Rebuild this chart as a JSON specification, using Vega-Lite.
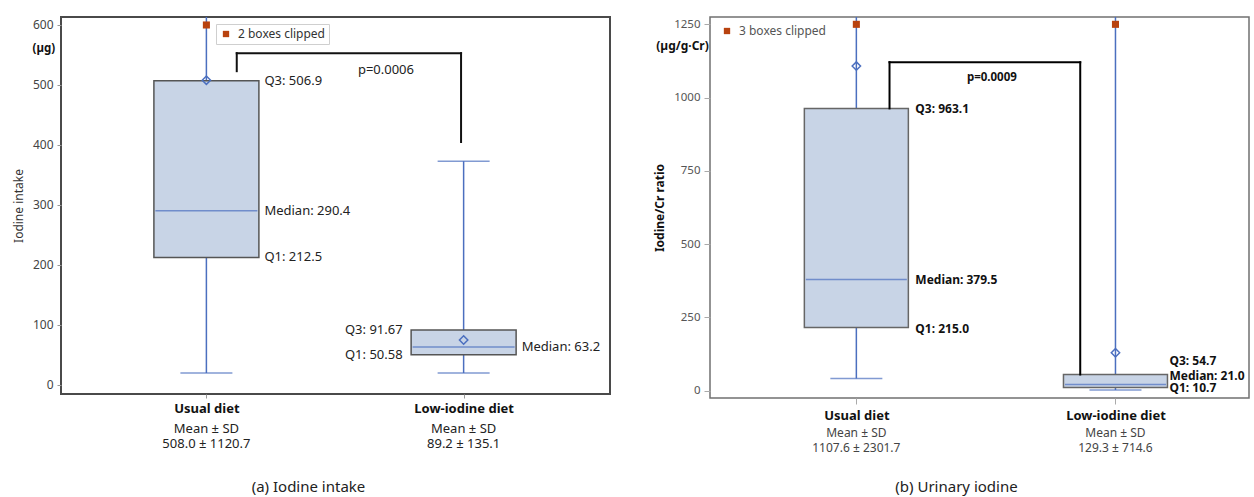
{
  "$schema": "https://vega.github.io/schema/vega-lite/v6.json",
  "padding": {"left": 11, "top": 15, "right": 0, "bottom": 0},
  "background": "white",
  "config": {
    "font": "Noto Sans",
    "axis": {"grid": false, "domain": false, "labelFont": "Noto Sans", "titleFont": "Noto Sans"},
    "legend": {"labelFont": "Noto Sans"},
    "title": {"font": "Noto Sans"}
  },
  "spacing": 41,
  "resolve": {"scale": {"color": "independent"}, "legend": {"color": "independent"}},
  "hconcat": [
    {
      "width": 549,
      "height": 377,
      "view": {"stroke": "#4a4a4a", "strokeWidth": 2},
      "title": {"text": "(a)  Iodine intake", "orient": "bottom", "anchor": "middle", "frame": "group", "dx": -27, "offset": 29, "fontSize": 15, "fontWeight": "normal", "color": "#222"},
      "layer": [
        {
          "data": {"name": "left_main", "values": [
            {"diet": "Usual diet", "idx": 1, "low": 20, "q1": 212.5, "median": 290.4, "q3": 506.9, "high": 613.3, "mean_marker": 508.0, "summary": "508.0 ± 1120.7"},
            {"diet": "Low-iodine diet", "idx": 2, "low": 20, "q1": 50.58, "median": 63.2, "q3": 91.67, "high": 373, "high_cap": 373, "mean_marker": 75, "summary": "89.2 ± 135.1"}
          ]},
          "layer": [
            {
              "mark": {"type": "rule", "color": "#4b6fbf", "strokeWidth": 1.5},
              "encoding": {
                "x": {"field": "idx", "type": "quantitative", "scale": {"domain": [0.4542, 2.5496], "nice": false, "zero": false},
                  "axis": {"values": [1, 2], "labelExpr": "datum.value == 1 ? 'Usual diet' : 'Low-iodine diet'", "title": null, "labelFontWeight": "bold", "labelFontSize": 13, "labelColor": "#111", "tickSize": 4, "tickColor": "#999", "labelPadding": 4}},
                "y": {"field": "low", "type": "quantitative", "scale": {"domain": [-15, 613.3], "nice": false, "zero": false},
                  "axis": {"values": [0, 100, 200, 300, 400, 500, 600], "format": "d", "title": "Iodine intake", "titleFontSize": 12, "titleFontWeight": "normal", "titleColor": "#333", "titlePadding": 7, "labelFontSize": 12, "labelColor": "#444", "tickSize": 4, "tickColor": "#999", "labelPadding": 4}},
                "y2": {"field": "high"}
              }
            },
            {
              "mark": {"type": "bar", "size": 105, "fill": "#c8d4e6", "stroke": "#555", "strokeWidth": 1.5},
              "encoding": {
                "x": {"field": "idx", "type": "quantitative"},
                "y": {"field": "q1", "type": "quantitative"},
                "y2": {"field": "q3"}
              }
            },
            {
              "mark": {"type": "tick", "orient": "horizontal", "size": 102, "thickness": 1.5, "color": "#4b6fbf"},
              "encoding": {
                "x": {"field": "idx", "type": "quantitative"},
                "y": {"field": "median", "type": "quantitative"}
              }
            },
            {
              "mark": {"type": "tick", "orient": "horizontal", "size": 52, "thickness": 1.5, "color": "#4b6fbf"},
              "encoding": {
                "x": {"field": "idx", "type": "quantitative"},
                "y": {"field": "low", "type": "quantitative"}
              }
            },
            {
              "transform": [{"filter": "isValid(datum.high_cap)"}],
              "mark": {"type": "tick", "orient": "horizontal", "size": 52, "thickness": 1.5, "color": "#4b6fbf"},
              "encoding": {
                "x": {"field": "idx", "type": "quantitative"},
                "y": {"field": "high_cap", "type": "quantitative"}
              }
            },
            {
              "mark": {"type": "point", "shape": "diamond", "filled": false, "size": 70, "stroke": "#4b6fbf", "strokeWidth": 1.5, "opacity": 1},
              "encoding": {
                "x": {"field": "idx", "type": "quantitative"},
                "y": {"field": "mean_marker", "type": "quantitative"}
              }
            },
            {
              "mark": {"type": "text", "baseline": "middle", "fontSize": 13, "color": "#222", "dy": 34.5},
              "encoding": {
                "x": {"field": "idx", "type": "quantitative"},
                "y": {"datum": -15, "type": "quantitative"},
                "text": {"value": "Mean ± SD"}
              }
            },
            {
              "mark": {"type": "text", "baseline": "middle", "fontSize": 13, "color": "#222", "dy": 50},
              "encoding": {
                "x": {"field": "idx", "type": "quantitative"},
                "y": {"datum": -15, "type": "quantitative"},
                "text": {"field": "summary"}
              }
            }
          ]
        },
        {
          "data": {"values": [{"idx": 1, "value": 600, "clip": "2 boxes clipped"}]},
          "mark": {"type": "point", "shape": "square", "filled": true, "size": 50, "opacity": 1},
          "encoding": {
            "x": {"field": "idx", "type": "quantitative"},
            "y": {"field": "value", "type": "quantitative"},
            "color": {"field": "clip", "type": "nominal", "scale": {"range": ["#b8420f"]},
              "legend": {"orient": "none", "legendX": 155, "legendY": 7, "title": null, "symbolType": "square", "symbolSize": 40, "labelFontSize": 12, "labelColor": "#333", "labelOffset": 6, "strokeColor": "#cfcfcf", "fillColor": "white", "padding": 4}}
          }
        },
        {
          "data": {"values": [
            {"x": 1.118, "x2": 1.118, "y": 523, "y2": 553},
            {"x": 1.118, "x2": 1.99, "y": 553, "y2": 553},
            {"x": 1.99, "x2": 1.99, "y": 553, "y2": 405}
          ]},
          "mark": {"type": "rule", "color": "#111", "strokeWidth": 2, "strokeCap": "square"},
          "encoding": {
            "x": {"field": "x", "type": "quantitative"},
            "x2": {"field": "x2"},
            "y": {"field": "y", "type": "quantitative"},
            "y2": {"field": "y2"}
          }
        },
        {
          "data": {"values": [{"x": 1.698, "y": 525, "text": "p=0.0006"}]},
          "mark": {"type": "text", "fontSize": 13, "color": "#222", "baseline": "middle"},
          "encoding": {
            "x": {"field": "x", "type": "quantitative"},
            "y": {"field": "y", "type": "quantitative"},
            "text": {"field": "text"}
          }
        },
        {
          "data": {"name": "left_labels", "values": [
            {"idx": 1, "value": 506.9, "label": "Q3: 506.9", "side": "right"},
            {"idx": 1, "value": 290.4, "label": "Median: 290.4", "side": "right"},
            {"idx": 1, "value": 212.5, "label": "Q1: 212.5", "side": "right"},
            {"idx": 2, "value": 91.67, "label": "Q3: 91.67", "side": "left"},
            {"idx": 2, "value": 50.58, "label": "Q1: 50.58", "side": "left"},
            {"idx": 2, "value": 63.2, "label": "Median: 63.2", "side": "right"}
          ]},
          "layer": [
            {
              "transform": [{"filter": "datum.side == 'right'"}],
              "mark": {"type": "text", "align": "left", "baseline": "middle", "fontSize": 13, "color": "#222", "dx": 58},
              "encoding": {
                "x": {"field": "idx", "type": "quantitative"},
                "y": {"field": "value", "type": "quantitative"},
                "text": {"field": "label"}
              }
            },
            {
              "transform": [{"filter": "datum.side == 'left'"}],
              "mark": {"type": "text", "align": "right", "baseline": "middle", "fontSize": 13, "color": "#222", "dx": -61},
              "encoding": {
                "x": {"field": "idx", "type": "quantitative"},
                "y": {"field": "value", "type": "quantitative"},
                "text": {"field": "label"}
              }
            }
          ]
        },
        {
          "data": {"values": [{"x": 0.4122, "y": 560, "text": "(µg)"}]},
          "mark": {"type": "text", "align": "right", "baseline": "middle", "fontSize": 11.5, "fontWeight": "bold", "color": "#111"},
          "encoding": {
            "x": {"field": "x", "type": "quantitative"},
            "y": {"field": "y", "type": "quantitative"},
            "text": {"field": "text"}
          }
        }
      ]
    },
    {
      "width": 539,
      "height": 381,
      "view": {"stroke": "#707070", "strokeWidth": 1.5},
      "title": {"text": "(b)  Urinary iodine", "orient": "bottom", "anchor": "middle", "frame": "group", "dx": -23, "offset": 26, "fontSize": 15, "fontWeight": "normal", "color": "#222"},
      "layer": [
        {
          "data": {"name": "right_main", "values": [
            {"diet": "Usual diet", "idx": 1, "low": 41, "q1": 215.0, "median": 379.5, "q3": 963.1, "high": 1275, "mean_marker": 1107.6, "summary": "1107.6 ± 2301.7"},
            {"diet": "Low-iodine diet", "idx": 2, "low": 2, "q1": 10.7, "median": 21.0, "q3": 54.7, "high": 1275, "mean_marker": 129.3, "summary": "129.3 ± 714.6"}
          ]},
          "layer": [
            {
              "mark": {"type": "rule", "color": "#4b6fbf", "strokeWidth": 1.5},
              "encoding": {
                "x": {"field": "idx", "type": "quantitative", "scale": {"domain": [0.4545, 2.496], "nice": false, "zero": false},
                  "axis": {"values": [1, 2], "labelExpr": "datum.value == 1 ? 'Usual diet' : 'Low-iodine diet'", "title": null, "labelFontWeight": "bold", "labelFontSize": 13, "labelColor": "#111", "tickSize": 6, "tickColor": "#aaa", "labelPadding": 5}},
                "y": {"field": "low", "type": "quantitative", "scale": {"domain": [-25.2, 1275], "nice": false, "zero": false},
                  "axis": {"values": [0, 250, 500, 750, 1000, 1250], "format": "d", "title": "Iodine/Cr ratio", "titleFontSize": 12, "titleFontWeight": "bold", "titleColor": "#111", "titlePadding": 7, "labelFontSize": 11.5, "labelColor": "#555", "tickSize": 6, "tickColor": "#aaa", "labelPadding": 4}},
                "y2": {"field": "high"}
              }
            },
            {
              "mark": {"type": "bar", "size": 104, "fill": "#c8d4e6", "stroke": "#666", "strokeWidth": 1.5},
              "encoding": {
                "x": {"field": "idx", "type": "quantitative"},
                "y": {"field": "q1", "type": "quantitative"},
                "y2": {"field": "q3"}
              }
            },
            {
              "mark": {"type": "tick", "orient": "horizontal", "size": 101, "thickness": 1.5, "color": "#4b6fbf"},
              "encoding": {
                "x": {"field": "idx", "type": "quantitative"},
                "y": {"field": "median", "type": "quantitative"}
              }
            },
            {
              "mark": {"type": "tick", "orient": "horizontal", "size": 52, "thickness": 1.5, "color": "#4b6fbf"},
              "encoding": {
                "x": {"field": "idx", "type": "quantitative"},
                "y": {"field": "low", "type": "quantitative"}
              }
            },
            {
              "mark": {"type": "point", "shape": "diamond", "filled": false, "size": 70, "stroke": "#4b6fbf", "strokeWidth": 1.5, "opacity": 1},
              "encoding": {
                "x": {"field": "idx", "type": "quantitative"},
                "y": {"field": "mean_marker", "type": "quantitative"}
              }
            },
            {
              "mark": {"type": "text", "baseline": "middle", "fontSize": 12, "color": "#444", "dy": 35},
              "encoding": {
                "x": {"field": "idx", "type": "quantitative"},
                "y": {"datum": -25.2, "type": "quantitative"},
                "text": {"value": "Mean ± SD"}
              }
            },
            {
              "mark": {"type": "text", "baseline": "middle", "fontSize": 12, "color": "#444", "dy": 50},
              "encoding": {
                "x": {"field": "idx", "type": "quantitative"},
                "y": {"datum": -25.2, "type": "quantitative"},
                "text": {"field": "summary"}
              }
            }
          ]
        },
        {
          "data": {"values": [{"idx": 1, "value": 1250, "clip": "3 boxes clipped"}, {"idx": 2, "value": 1250, "clip": "3 boxes clipped"}]},
          "mark": {"type": "point", "shape": "square", "filled": true, "size": 50, "opacity": 1},
          "encoding": {
            "x": {"field": "idx", "type": "quantitative"},
            "y": {"field": "value", "type": "quantitative"},
            "color": {"field": "clip", "type": "nominal", "scale": {"range": ["#b8420f"]},
              "legend": {"orient": "none", "legendX": 8, "legendY": 5, "title": null, "symbolType": "square", "symbolSize": 40, "labelFontSize": 12, "labelColor": "#555", "labelOffset": 6, "padding": 3}}
          }
        },
        {
          "data": {"values": [
            {"x": 1.128, "x2": 1.128, "y": 963.1, "y2": 1121},
            {"x": 1.128, "x2": 1.864, "y": 1121, "y2": 1121},
            {"x": 1.864, "x2": 1.864, "y": 1121, "y2": 54.7}
          ]},
          "mark": {"type": "rule", "color": "#000", "strokeWidth": 2, "strokeCap": "square"},
          "encoding": {
            "x": {"field": "x", "type": "quantitative"},
            "x2": {"field": "x2"},
            "y": {"field": "y", "type": "quantitative"},
            "y2": {"field": "y2"}
          }
        },
        {
          "data": {"values": [{"x": 1.523, "y": 1067, "text": "p=0.0009"}]},
          "mark": {"type": "text", "fontSize": 11.5, "fontWeight": "bold", "color": "#111", "baseline": "middle"},
          "encoding": {
            "x": {"field": "x", "type": "quantitative"},
            "y": {"field": "y", "type": "quantitative"},
            "text": {"field": "text"}
          }
        },
        {
          "data": {"name": "right_labels", "values": [
            {"idx": 1, "value": 963.1, "label": "Q3: 963.1", "slot": "plain"},
            {"idx": 1, "value": 379.5, "label": "Median: 379.5", "slot": "plain"},
            {"idx": 1, "value": 215.0, "label": "Q1: 215.0", "slot": "plain"},
            {"idx": 2, "value": 54.7, "label": "Q3: 54.7", "slot": "upper"},
            {"idx": 2, "value": 21.0, "label": "Median: 21.0", "slot": "middle"},
            {"idx": 2, "value": 10.7, "label": "Q1: 10.7", "slot": "lower"}
          ]},
          "layer": [
            {
              "transform": [{"filter": "datum.slot == 'plain'"}],
              "mark": {"type": "text", "align": "left", "baseline": "middle", "fontSize": 12, "fontWeight": "bold", "color": "#111", "dx": 59, "dy": 1},
              "encoding": {
                "x": {"field": "idx", "type": "quantitative"},
                "y": {"field": "value", "type": "quantitative"},
                "text": {"field": "label"}
              }
            },
            {
              "transform": [{"filter": "datum.slot == 'upper'"}],
              "mark": {"type": "text", "align": "left", "baseline": "middle", "fontSize": 12, "fontWeight": "bold", "color": "#111", "dx": 54, "dy": -13.5},
              "encoding": {
                "x": {"field": "idx", "type": "quantitative"},
                "y": {"field": "value", "type": "quantitative"},
                "text": {"field": "label"}
              }
            },
            {
              "transform": [{"filter": "datum.slot == 'middle'"}],
              "mark": {"type": "text", "align": "left", "baseline": "middle", "fontSize": 12, "fontWeight": "bold", "color": "#111", "dx": 54, "dy": -8.5},
              "encoding": {
                "x": {"field": "idx", "type": "quantitative"},
                "y": {"field": "value", "type": "quantitative"},
                "text": {"field": "label"}
              }
            },
            {
              "transform": [{"filter": "datum.slot == 'lower'"}],
              "mark": {"type": "text", "align": "left", "baseline": "middle", "fontSize": 12, "fontWeight": "bold", "color": "#111", "dx": 54, "dy": 0.5},
              "encoding": {
                "x": {"field": "idx", "type": "quantitative"},
                "y": {"field": "value", "type": "quantitative"},
                "text": {"field": "label"}
              }
            }
          ]
        },
        {
          "data": {"values": [{"x": 0.4306, "y": 1176, "text": "(µg/g·Cr)"}]},
          "mark": {"type": "text", "align": "right", "baseline": "middle", "fontSize": 12, "fontWeight": "bold", "color": "#111"},
          "encoding": {
            "x": {"field": "x", "type": "quantitative"},
            "y": {"field": "y", "type": "quantitative"},
            "text": {"field": "text"}
          }
        }
      ]
    }
  ]
}
